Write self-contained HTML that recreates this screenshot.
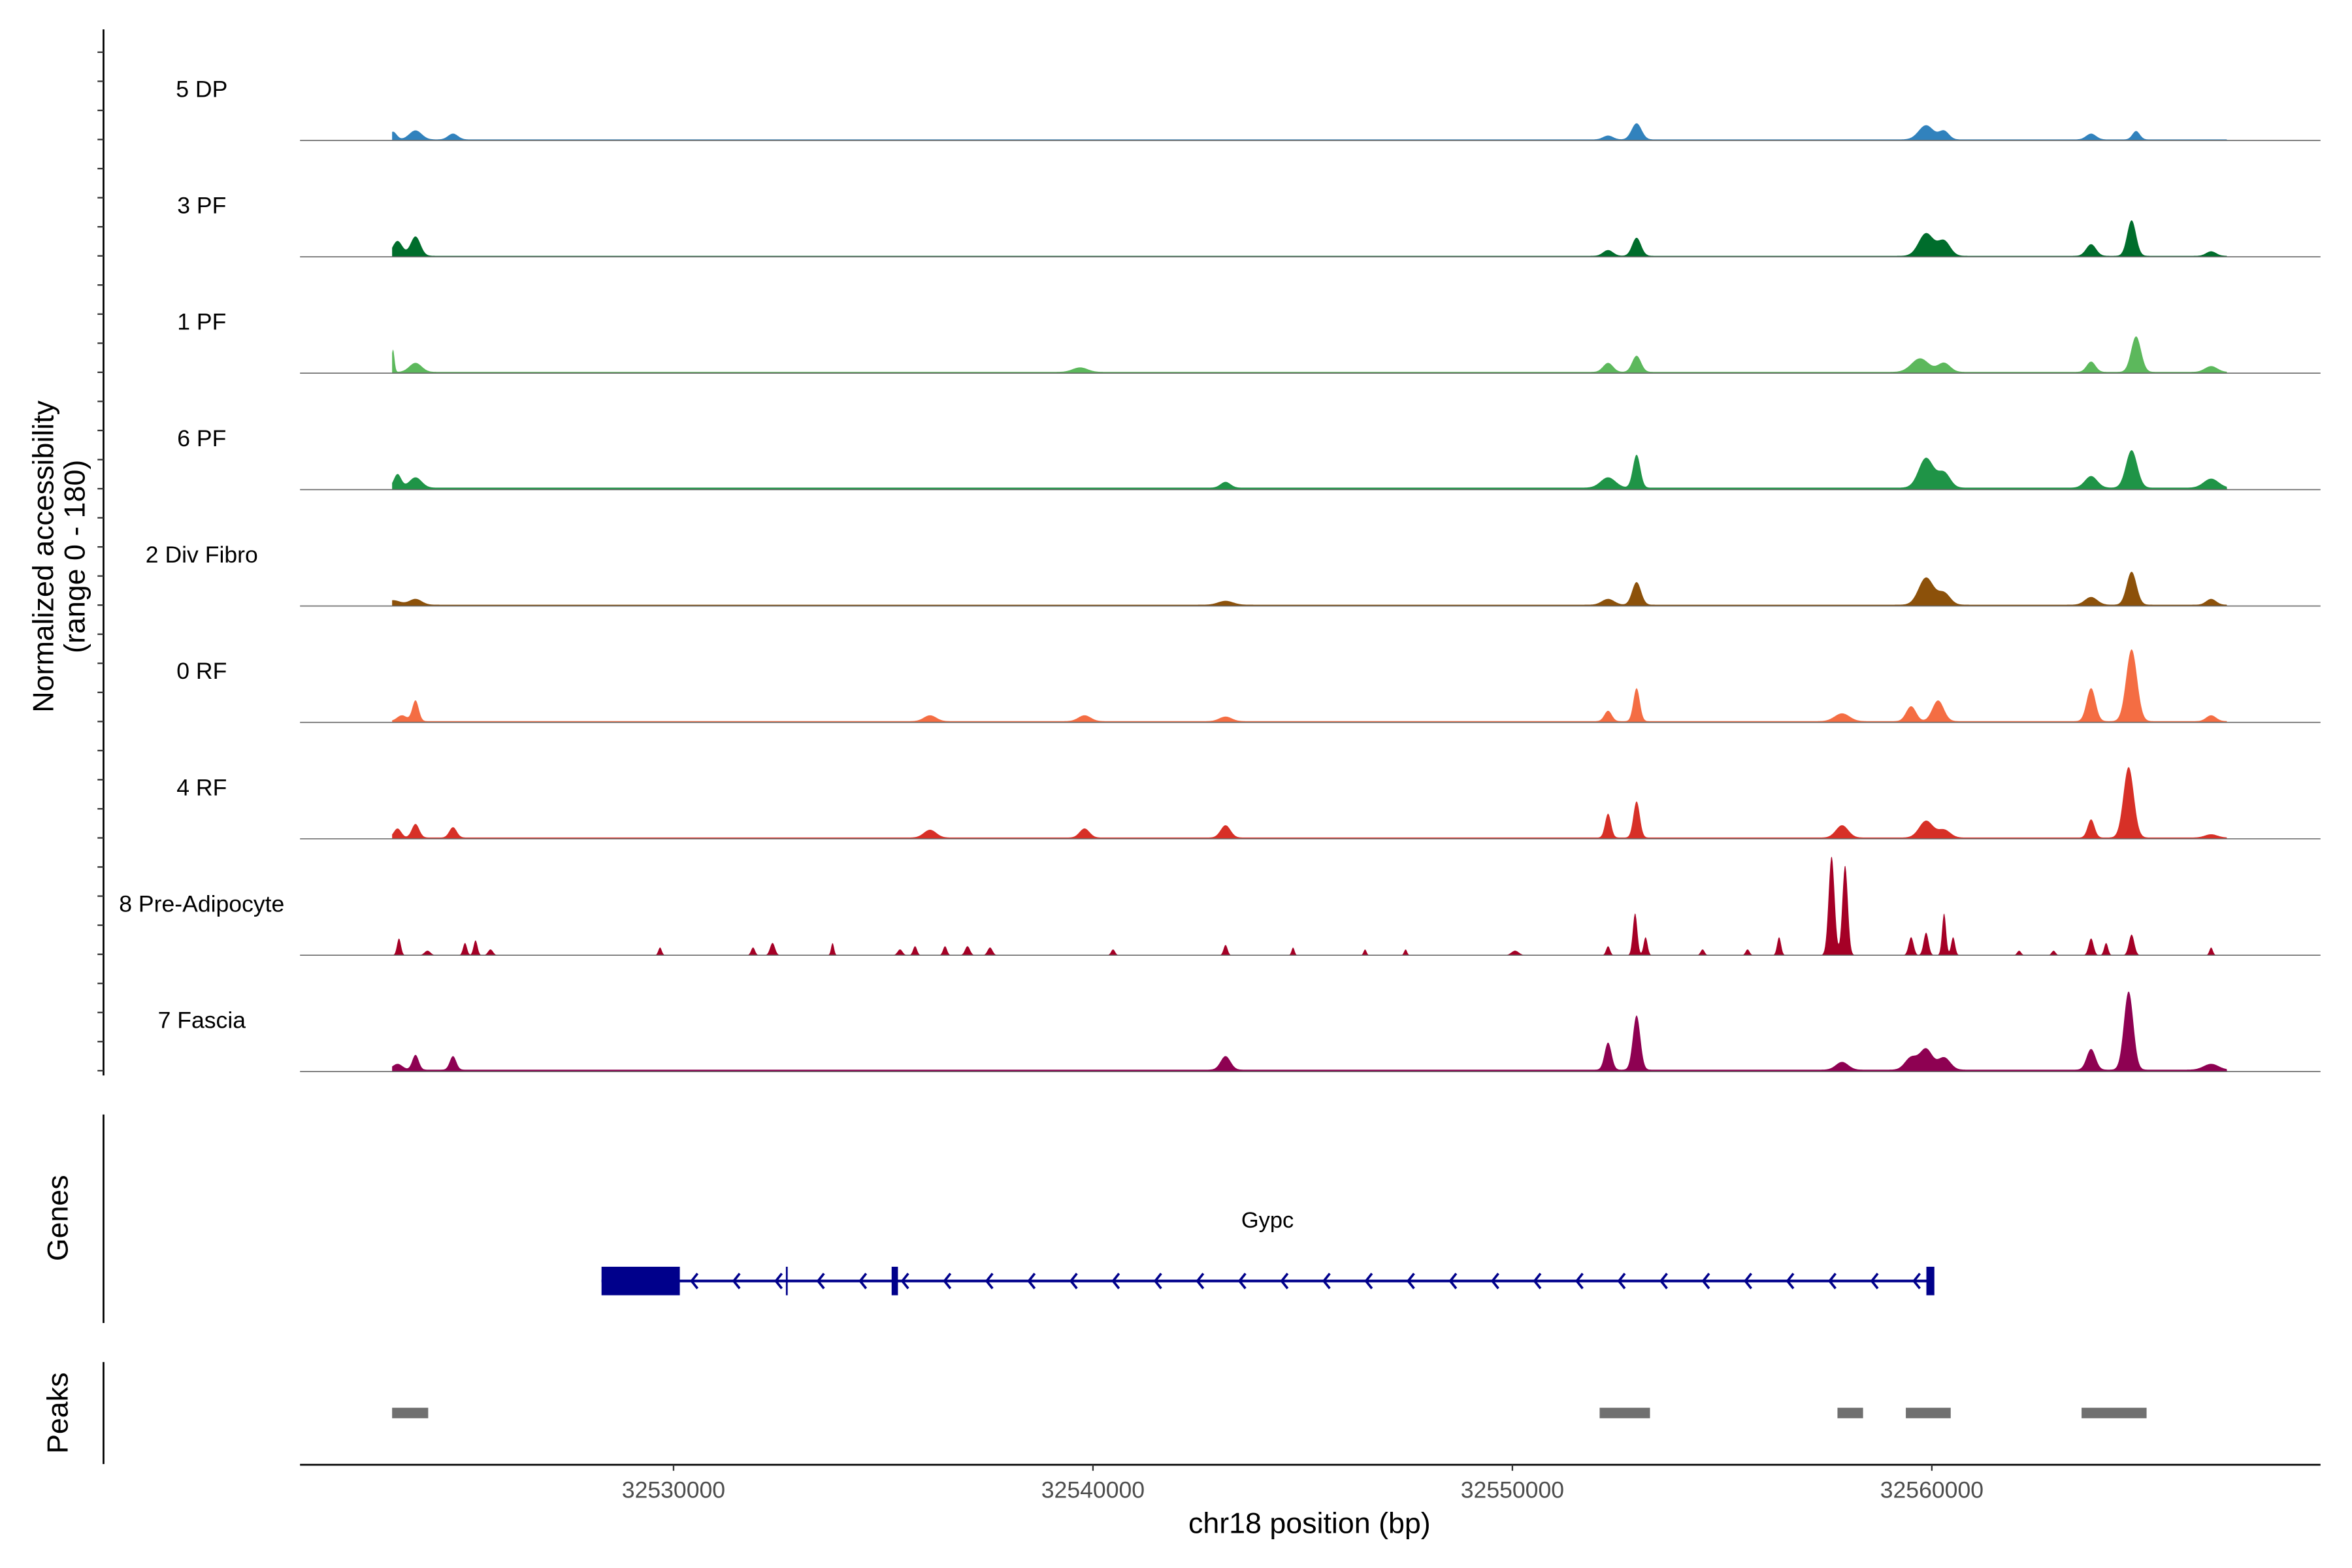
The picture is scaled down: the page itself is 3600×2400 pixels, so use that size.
<!DOCTYPE html>
<html><head><meta charset="utf-8">
<style>
html,body{margin:0;padding:0;background:#fff;}
svg{display:block;}
text{font-family:"Liberation Sans",Arial,sans-serif;fill:#000;}
</style></head>
<body>
<svg id="chart" width="3600" height="2400" viewBox="0 0 1568 1045.33" xmlns="http://www.w3.org/2000/svg">
<g id="tracks"></g>
<g id="genes"></g>
<g id="peaks"></g>
<g id="axes"></g>
</svg>
<script>
const trackNames = ["5 DP","3 PF","1 PF","6 PF","2 Div Fibro","0 RF","4 RF","8 Pre-Adipocyte","7 Fascia"];
const trackColors = ["#3182bd","#006d2c","#5cb85c","#1f9447","#8c510a","#f46d43","#d73027","#a50026","#8e0152"];
// peaks per track: [position bp, normalized height (0-180), width bp]
const peaks5DP = [[32523311,12,150],[32523848,14,250],[32524742,9,200],[32552281,6,200],[32552961,25,200],[32559863,22,300],[32560292,13,200],[32563797,9,200],[32564870,13,150]];
const peaks3PF = [[32523419,23,200],[32523848,30,200],[32552281,9,200],[32552961,28,180],[32559863,35,300],[32560292,23,250],[32563797,18,200],[32564763,55,180],[32566659,7,200]];
const peaks1PF = [[32523311,35,60],[32523848,14,250],[32539692,7,300],[32552281,14,200],[32552961,25,180],[32559720,21,350],[32560292,14,250],[32563797,16,180],[32564870,55,200],[32566659,9,250]];
const peaks6PF = [[32523419,21,150],[32523848,16,250],[32543161,9,200],[32552281,16,300],[32552961,51,150],[32559863,46,300],[32560292,23,250],[32563797,18,250],[32564763,58,230],[32566659,14,300]];
const peaks2Div = [[32523311,7,300],[32523848,9,250],[32543161,6,300],[32552281,9,250],[32552961,35,180],[32559863,42,300],[32560292,18,250],[32563797,12,250],[32564763,51,200],[32566659,9,200]];
const peaks0RF = [[32523526,9,200],[32523848,32,130],[32536115,9,250],[32539799,9,250],[32543161,7,250],[32552281,16,150],[32552961,51,130],[32557860,12,300],[32559506,23,200],[32560149,32,230],[32563797,51,180],[32564763,111,220],[32566659,9,200]];
const peaks4RF = [[32523419,14,150],[32523848,21,150],[32524742,16,150],[32536115,12,250],[32539799,14,200],[32543161,19,200],[32552281,37,120],[32552961,56,130],[32557860,19,250],[32559863,26,280],[32560292,12,250],[32563797,28,140],[32564692,109,210],[32566659,5,250]];
const peaks8Pre = [[32523454,26,80],[32524134,7,120],[32525028,19,80],[32525279,23,80],[32525636,9,100],[32529678,12,70],[32531895,12,80],[32532360,19,100],[32533791,19,60],[32535400,9,100],[32535758,14,80],[32536473,14,80],[32537009,14,100],[32537546,12,100],[32540479,9,80],[32543161,16,80],[32544770,12,60],[32546487,9,60],[32547453,9,60],[32550064,7,150],[32552281,14,80],[32552925,65,90],[32553175,28,80],[32554534,9,80],[32555607,9,80],[32556358,28,80],[32557610,153,120],[32557932,139,110],[32559506,28,100],[32559863,35,100],[32560292,65,80],[32560507,28,80],[32562081,7,80],[32562903,7,80],[32563797,26,100],[32564155,19,80],[32564763,32,110],[32566659,12,70]];
const peaks7Fas = [[32523419,9,200],[32523848,23,130],[32524742,21,130],[32543161,21,200],[32552281,42,140],[32552961,84,150],[32557860,12,250],[32559506,19,250],[32559863,32,250],[32560292,19,250],[32563797,32,180],[32564692,121,190],[32566659,9,300]];
const trackPeaks = [peaks5DP,peaks3PF,peaks1PF,peaks6PF,peaks2Div,peaks0RF,peaks4RF,peaks8Pre,peaks7Fas];
const bgLevels = [1.5,1.5,2,3,2,2,2,0,3];
const xTicks = [32530000,32540000,32550000,32560000];
const geneStart = 32528283, geneEnd = 32560042;
const geneExons = [[32528283,32530150],[32535200,32535350],[32559870,32560060]];
const geneTick = 32532700;
const peakRegions = [[32523290,32524150],[32552080,32553280],[32557750,32558360],[32559380,32560450],[32563570,32565120]];

const NS="http://www.w3.org/2000/svg";
const X0=200,X1=1547,BP0=32521094,BPPX=0.027962;
const xs = bp => X0+(bp-BP0)*BPPX;
const baseY = i => 93.6 + i*77.6;
const ys = v => v*77.6/180;
function mk(tag,attrs,parent){const e=document.createElementNS(NS,tag);for(const k in attrs)e.setAttribute(k,attrs[k]);parent.appendChild(e);return e;}

const gT=document.getElementById('tracks');
const dataStart=32523290, dataEnd=32567040;
trackNames.forEach((name,i)=>{
  const by=baseY(i);
  const pk=trackPeaks[i];
  let d="M"+xs(dataStart)+","+by;
  for(let bp=dataStart;bp<=dataEnd;bp+=18){
    let v=bgLevels[i];
    for(const p of pk){const s=p[2]/1.7;v+=p[1]*Math.exp(-0.5*((bp-p[0])/s)**2);}
    d+=" L"+xs(bp).toFixed(2)+","+(by-ys(v)).toFixed(2);
  }
  d+=" L"+xs(dataEnd)+","+by+" Z";
  const path=mk('path',{d:d,fill:trackColors[i]},gT);
  
  
  const ln=mk('line',{x1:X0,x2:X1,y1:by,y2:by,stroke:'#666','stroke-width':0.7},gT);
  
  
  const t=mk('text',{x:134.5,y:by-29,'text-anchor':'middle','font-size':15.5},gT);
  t.textContent=name;
  
  
});

// genes
const gG=document.getElementById('genes');
const GY=854;
let gl=mk('line',{x1:xs(geneStart),x2:xs(geneEnd),y1:GY,y2:GY,stroke:'#00008b','stroke-width':1.8},gG);


for(let x=xs(geneStart)+60;x<xs(geneEnd)-5;x+=28.1){
  const c=mk('path',{d:`M${x+4},${GY-5} L${x},${GY} L${x+4},${GY+5}`,fill:'none',stroke:'#00008b','stroke-width':1.6},gG);
  
  
}
geneExons.forEach(e=>{
  const r=mk('rect',{x:xs(e[0]),y:GY-9.5,width:xs(e[1])-xs(e[0]),height:19,fill:'#00008b'},gG);
  
  
});
let tk=mk('line',{x1:xs(geneTick),x2:xs(geneTick),y1:GY-9.5,y2:GY+9.5,stroke:'#00008b','stroke-width':1.2},gG);


let gn=mk('text',{x:845,y:818.5,'text-anchor':'middle','font-size':15},gG);
gn.textContent='Gypc';



// peaks
const gP=document.getElementById('peaks');
peakRegions.forEach(p=>{
  const r=mk('rect',{x:xs(p[0]),y:938.5,width:xs(p[1])-xs(p[0]),height:7,fill:'#707070'},gP);
  
  
});

// axes
const gA=document.getElementById('axes');
function line(x1,y1,x2,y2,w,name,col){const l=mk('line',{x1,y1,x2,y2,stroke:col||'#000','stroke-width':w},gA);return l;}
line(69,19.6,69,717,1.2,'y-axis-line');
for(let y=34.8;y<716;y+=19.4){line(65,y,69,y,1,'y-tick','#333');}
line(69,743,69,882,1.2,'genes-axis-line');
line(69,908,69,976,1.2,'peaks-axis-line');
line(200,976.5,1547,976.5,1.2,'x-axis-line');
xTicks.forEach(v=>{
  line(xs(v),976.5,xs(v),980.5,1,'x-tick','#333');
  const t=mk('text',{x:xs(v),y:998.5,'text-anchor':'middle','font-size':15.5},gA);
  t.style.fill='#4d4d4d';
  t.textContent=String(v);
  
  
});
function rotText(x,y,txt,name,size){const t=mk('text',{x:0,y:0,'text-anchor':'middle','font-size':size,transform:`translate(${x},${y}) rotate(-90)`},gA);t.textContent=txt;return t;}
rotText(35.5,371,'Normalized accessibility','y-axis-title',19.5);
rotText(56.5,371,'(range 0 - 180)','y-axis-subtitle',19.5);
rotText(45,812,'Genes','genes-axis-title',19.5);
rotText(45,942,'Peaks','peaks-axis-title',19.5);
const xt=mk('text',{x:873,y:1022,'text-anchor':'middle','font-size':19.5},gA);
xt.textContent='chr18 position (bp)';


</script>
</body></html>
